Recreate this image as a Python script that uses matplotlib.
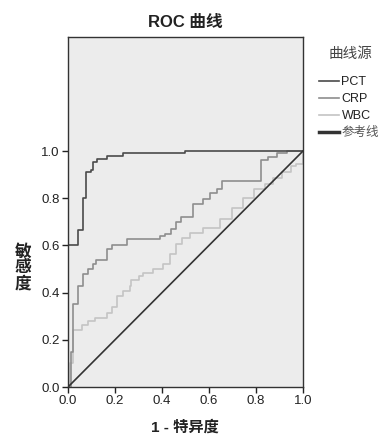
import matplotlib
matplotlib.use('Agg')
import matplotlib.pyplot as plt
from matplotlib.lines import Line2D

plt.rcParams['font.family'] = ['Liberation Sans', 'Noto Sans CJK SC', 'DejaVu Sans']

# ROC 曲线数据 (1 - 特异度, 敏感度), 阶梯拐点
pct_fpr = [0, 0, 0.043, 0.065, 0.075, 0.097, 0.105, 0.122, 0.165, 0.232, 0.50, 1.0]
pct_tpr = [0, 0.60, 0.664, 0.80, 0.91, 0.92, 0.955, 0.966, 0.977, 0.99, 1.0, 1.0]

crp_fpr = [0, 0.012, 0.02, 0.044, 0.062, 0.087, 0.105, 0.12, 0.165, 0.186, 0.25,
           0.39, 0.413, 0.44, 0.46, 0.48, 0.533, 0.576, 0.604, 0.633, 0.654,
           0.82, 0.85, 0.89, 0.93, 1.0]
crp_tpr = [0, 0.15, 0.35, 0.43, 0.477, 0.50, 0.52, 0.54, 0.583, 0.60, 0.626,
           0.64, 0.65, 0.668, 0.70, 0.72, 0.775, 0.796, 0.82, 0.84, 0.875,
           0.96, 0.975, 0.99, 1.0, 1.0]

wbc_fpr = [0, 0.01, 0.02, 0.058, 0.086, 0.115, 0.165, 0.186, 0.207, 0.235, 0.264,
           0.27, 0.30, 0.32, 0.363, 0.405, 0.434, 0.46, 0.484, 0.52, 0.576,
           0.647, 0.696, 0.746, 0.79, 0.838, 0.874, 0.91, 0.95, 0.97, 1.0]
wbc_tpr = [0, 0.1, 0.243, 0.264, 0.278, 0.292, 0.313, 0.34, 0.384, 0.405, 0.427,
           0.455, 0.47, 0.484, 0.498, 0.52, 0.562, 0.604, 0.633, 0.653, 0.675,
           0.71, 0.76, 0.80, 0.838, 0.86, 0.887, 0.91, 0.937, 0.945, 1.0]

ref_x = [0, 1]
ref_y = [0, 1]

ticks = [0.0, 0.2, 0.4, 0.6, 0.8, 1.0]
tick_labels = ['0.0', '0.2', '0.4', '0.6', '0.8', '1.0']

fig = plt.figure(figsize=(3.81, 4.38), dpi=100)
ax = fig.add_axes([68 / 381, 51 / 438, 235 / 381, 350 / 438])
ax.set_facecolor('#ececec')

c_pct, c_crp, c_wbc, c_ref = '#4a4a4a', '#8e8e8e', '#c4c4c4', '#333333'
ax.plot(wbc_fpr, wbc_tpr, drawstyle='steps-post', color=c_wbc, lw=1.2)
ax.plot(crp_fpr, crp_tpr, drawstyle='steps-post', color=c_crp, lw=1.2)
ax.plot(pct_fpr, pct_tpr, drawstyle='steps-post', color=c_pct, lw=1.2)
ax.plot(ref_x, ref_y, color=c_ref, lw=1.2)

ax.set_xlim(0, 1)
ax.set_ylim(0, 350 / 236)
ax.set_xticks(ticks)
ax.set_xticklabels(tick_labels)
ax.set_yticks(ticks)
ax.set_yticklabels(tick_labels)
ax.tick_params(direction='out', length=4, width=1, colors='#222222', labelsize=9.5, pad=2)
for s in ax.spines.values():
    s.set_color('#333333')
    s.set_linewidth(1.0)

fig.text(185 / 381, 1 - 22 / 438, 'ROC 曲线', ha='center', va='center',
         fontsize=12, fontweight='bold', color='#222222')
fig.text(185 / 381, 1 - 427 / 438, '1 - 特异度', ha='center', va='center',
         fontsize=11, fontweight='bold', color='#222222')
fig.text(23 / 381, 1 - 268 / 438, '敏\n感\n度', ha='center', va='center',
         fontsize=12, fontweight='bold', color='#222222', linespacing=1.0)

# 图例
fig.text(350 / 381, 1 - 54 / 438, '曲线源', ha='center', va='center',
         fontsize=10.5, color='#444444')
handles = [Line2D([], [], color=c_pct, lw=1.2),
           Line2D([], [], color=c_crp, lw=1.2),
           Line2D([], [], color=c_wbc, lw=1.2),
           Line2D([], [], color=c_ref, lw=2.5)]
leg = fig.legend(handles, ['PCT', 'CRP', 'WBC', '参考线'],
                 loc='upper left', bbox_to_anchor=(319 / 381, 1 - 76 / 438),
                 frameon=False, fontsize=9,
                 handlelength=1.6, handletextpad=0.2, labelspacing=0.4,
                 borderpad=0, borderaxespad=0)
for t in leg.get_texts():
    t.set_color('#222222')
leg.get_texts()[3].set_color('#555555')

fig.savefig('out.png', dpi=100)
